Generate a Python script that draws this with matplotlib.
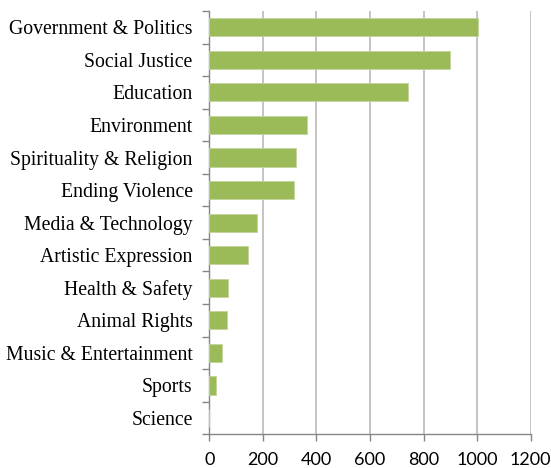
import matplotlib
matplotlib.use("Agg")
import matplotlib.pyplot as plt
import numpy as np

categories = [
    "Government & Politics", "Social Justice", "Education", "Environment",
    "Spirituality & Religion", "Ending Violence", "Media & Technology",
    "Artistic Expression", "Health & Safety", "Animal Rights",
    "Music & Entertainment", "Sports", "Science",
]
values = [1003, 899, 743, 366, 323, 316, 178, 144, 69, 65, 47, 23, 0]
x_ticks = [0, 200, 400, 600, 800, 1000, 1200]

plt.rcParams["font.family"] = ["Liberation Serif", "DejaVu Serif"]

fig = plt.figure(figsize=(5.51, 4.68), dpi=100)
ax = fig.add_axes([0.380, 0.072, 0.583, 0.9045])

y = np.arange(len(categories))
ax.barh(y, values, height=0.556, color="#9BBB59", edgecolor="#C3D69B",
        linewidth=0.6, zorder=3)

ax.set_ylim(len(categories) - 0.5, -0.5)
ax.set_xlim(0, 1200)
ax.set_xticks(x_ticks)
ax.set_xticklabels([str(v) for v in x_ticks], fontsize=13,
                   family=["Lato", "DejaVu Sans"])
ax.set_yticks(y)
ax.set_yticklabels(categories, fontsize=14.2)

# category boundary ticks on the value axis
ax.set_yticks(np.arange(-0.5, len(categories), 1.0), minor=True)
ax.tick_params(axis="y", which="major", length=0, pad=12)
ax.tick_params(axis="y", which="minor", length=5, color="#868686", width=1)
ax.tick_params(axis="x", which="major", length=5, color="#868686", width=1, pad=8)

ax.grid(axis="x", color="#BFBFBF", linewidth=1.3, zorder=0)
ax.set_axisbelow(True)

for side in ("top", "right"):
    ax.spines[side].set_visible(False)
for side in ("left", "bottom"):
    ax.spines[side].set_color("#868686")
    ax.spines[side].set_linewidth(1.0)

fig.savefig("out.png", dpi=100)
